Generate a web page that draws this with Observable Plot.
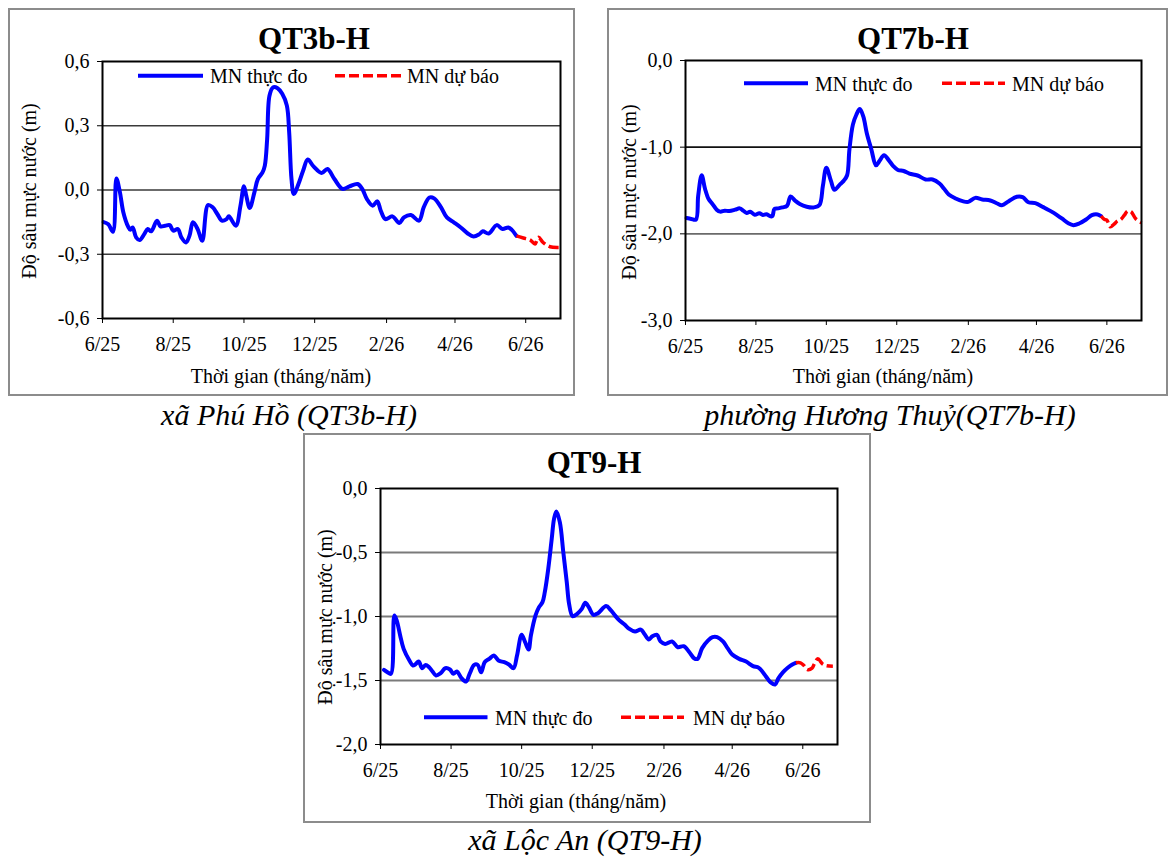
<!DOCTYPE html>
<html>
<head>
<meta charset="utf-8">
<script src="https://cdn.jsdelivr.net/npm/d3@7"></script>
<script src="https://cdn.jsdelivr.net/npm/@observablehq/plot@0.6"></script>
<style>
  html, body { margin: 0; padding: 0; background: #fff; }
  #page { position: relative; width: 1173px; height: 861px; background: #fff; overflow: hidden; }
  .box { position: absolute; box-sizing: border-box; border: 2px solid #8c8c8c; }
  .plotwrap { position: absolute; }
  #overlay { position: absolute; left: 0; top: 0; pointer-events: none; }
  #overlay text { font-family: 'Liberation Serif', 'Times New Roman', serif; fill: #000; }
</style>
</head>
<body>
<div id="page">
  <div class="box" style="left:8px;top:8px;width:567px;height:388px;"></div>
  <div class="box" style="left:607px;top:8px;width:561px;height:388px;"></div>
  <div class="box" style="left:303px;top:433px;width:568px;height:390px;"></div>
  <div class="plotwrap" id="p1"></div>
  <div class="plotwrap" id="p2"></div>
  <div class="plotwrap" id="p3"></div>
  <svg id="overlay" width="1173" height="861" xmlns="http://www.w3.org/2000/svg">
    <!-- Panel 1 -->
    <text x="314" y="49" text-anchor="middle" font-size="31" font-weight="bold">QT3b-H</text>
    <text transform="translate(36,191) rotate(-90)" text-anchor="middle" font-size="20">Độ sâu mực nước (m)</text>
    <text x="281" y="382.5" text-anchor="middle" font-size="20">Thời gian (tháng/năm)</text>
    <line x1="138" x2="203" y1="75.7" y2="75.7" stroke="#0000ff" stroke-width="4"/>
    <text x="210" y="83" font-size="20">MN thực đo</text>
    <line x1="335" x2="402" y1="75.7" y2="75.7" stroke="#ff0000" stroke-width="3.5" stroke-dasharray="10,4"/>
    <text x="407" y="83" font-size="20">MN dự báo</text>
    <text x="289" y="425" text-anchor="middle" font-size="30" font-style="italic">xã Phú Hồ (QT3b-H)</text>
    <!-- Panel 2 -->
    <text x="913" y="49" text-anchor="middle" font-size="31" font-weight="bold">QT7b-H</text>
    <text transform="translate(636,192) rotate(-90)" text-anchor="middle" font-size="20">Độ sâu mực nước (m)</text>
    <text x="883" y="382.5" text-anchor="middle" font-size="20">Thời gian (tháng/năm)</text>
    <line x1="744" x2="808" y1="83.3" y2="83.3" stroke="#0000ff" stroke-width="4"/>
    <text x="815" y="91" font-size="20">MN thực đo</text>
    <line x1="942" x2="1005" y1="83.3" y2="83.3" stroke="#ff0000" stroke-width="3.5" stroke-dasharray="10,4"/>
    <text x="1012" y="91" font-size="20">MN dự báo</text>
    <text x="890" y="425" text-anchor="middle" font-size="30" font-style="italic">phường Hương Thuỷ(QT7b-H)</text>
    <!-- Panel 3 -->
    <text x="594" y="473" text-anchor="middle" font-size="31" font-weight="bold">QT9-H</text>
    <text transform="translate(332,617) rotate(-90)" text-anchor="middle" font-size="20">Độ sâu mực nước (m)</text>
    <text x="576" y="808" text-anchor="middle" font-size="20">Thời gian (tháng/năm)</text>
    <line x1="424" x2="487.5" y1="717.3" y2="717.3" stroke="#0000ff" stroke-width="4"/>
    <text x="495" y="725" font-size="20">MN thực đo</text>
    <line x1="621" x2="684" y1="717.3" y2="717.3" stroke="#ff0000" stroke-width="3.5" stroke-dasharray="10,4"/>
    <text x="693" y="725" font-size="20">MN dự báo</text>
    <text x="585" y="850" text-anchor="middle" font-size="30" font-style="italic">xã Lộc An (QT9-H)</text>
  </svg>
</div>
<script>
// ---------- Data ----------
const monthTicks = ["2025-06-01","2025-08-01","2025-10-01","2025-12-01","2026-02-01","2026-04-01","2026-06-01"];
const timeDomain = ["2025-06-01","2026-07-01"];

// QT3b-H (xã Phú Hồ)
const qt3bObsDates = ["2025-06-02","2025-06-06","2025-06-10","2025-06-13","2025-06-16","2025-06-19","2025-06-23","2025-06-25","2025-06-27","2025-06-30",
  "2025-07-03","2025-07-07","2025-07-10","2025-07-13","2025-07-18","2025-07-21","2025-07-25","2025-07-29",
  "2025-08-01","2025-08-05","2025-08-08","2025-08-12","2025-08-15","2025-08-18","2025-08-22","2025-08-26","2025-08-31",
  "2025-09-04","2025-09-08","2025-09-12","2025-09-16","2025-09-18","2025-09-24","2025-09-28",
  "2025-10-01","2025-10-03","2025-10-06","2025-10-10","2025-10-13","2025-10-17","2025-10-19","2025-10-21","2025-10-23","2025-10-26","2025-10-30",
  "2025-11-03","2025-11-07","2025-11-09","2025-11-11","2025-11-13","2025-11-17","2025-11-21","2025-11-25","2025-11-30",
  "2025-12-07","2025-12-12","2025-12-18","2025-12-25","2025-12-31",
  "2026-01-07","2026-01-11","2026-01-15","2026-01-20","2026-01-24","2026-01-27","2026-01-31",
  "2026-02-06","2026-02-12","2026-02-16","2026-02-22",
  "2026-03-01","2026-03-05","2026-03-10","2026-03-14","2026-03-20","2026-03-25","2026-03-31",
  "2026-04-06","2026-04-12","2026-04-17","2026-04-22","2026-04-25","2026-04-30",
  "2026-05-07","2026-05-12","2026-05-17","2026-05-20","2026-05-24"];
const qt3bObsValues = [-0.15,-0.16,-0.195,0.054,-0.01,-0.105,-0.17,-0.186,-0.175,-0.221,
  -0.234,-0.206,-0.182,-0.193,-0.143,-0.17,-0.167,-0.164,
  -0.19,-0.182,-0.221,-0.245,-0.214,-0.151,-0.182,-0.237,-0.07,
  -0.081,-0.112,-0.143,-0.136,-0.123,-0.167,-0.073,
  0.017,-0.027,-0.084,-0.011,0.051,0.082,0.114,0.238,0.44,0.479,0.475,
  0.449,0.394,0.269,0.051,-0.019,0.028,0.09,0.142,0.11,
  0.079,0.098,0.051,0.005,0.017,
  0.028,0.005,-0.042,-0.073,-0.053,-0.097,-0.136,
  -0.123,-0.154,-0.128,-0.117,
  -0.143,-0.081,-0.035,-0.039,-0.081,-0.128,-0.151,
  -0.175,-0.203,-0.217,-0.206,-0.193,-0.203,
  -0.164,-0.182,-0.175,-0.186,-0.214];
const qt3bFcDates = ["2026-05-24","2026-05-30","2026-06-05","2026-06-09","2026-06-12","2026-06-16","2026-06-22","2026-06-30"];
const qt3bFcValues = [-0.214,-0.224,-0.234,-0.252,-0.221,-0.245,-0.265,-0.268];
const qt3bYTicks = [-0.6,-0.3,0,0.3,0.6];

// QT7b-H (phường Hương Thuỷ)
const qt7bObsDates = ["2025-06-02","2025-06-06","2025-06-10","2025-06-12","2025-06-15","2025-06-18","2025-06-21","2025-06-24","2025-06-28",
  "2025-07-01","2025-07-05","2025-07-09","2025-07-14","2025-07-18","2025-07-21","2025-07-24","2025-07-27","2025-07-31",
  "2025-08-04","2025-08-07","2025-08-10","2025-08-15","2025-08-17","2025-08-20","2025-08-24","2025-08-28","2025-08-31",
  "2025-09-04","2025-09-08","2025-09-14","2025-09-20","2025-09-25","2025-09-28",
  "2025-10-01","2025-10-05","2025-10-08","2025-10-13","2025-10-16","2025-10-19","2025-10-21","2025-10-24","2025-10-27","2025-10-30",
  "2025-11-02","2025-11-05","2025-11-09","2025-11-13","2025-11-16","2025-11-20","2025-11-24","2025-11-28",
  "2025-12-02","2025-12-07","2025-12-12","2025-12-19","2025-12-26",
  "2026-01-01","2026-01-07","2026-01-11","2026-01-15","2026-01-21","2026-01-27",
  "2026-02-01","2026-02-07","2026-02-13","2026-02-20","2026-02-26",
  "2026-03-02","2026-03-08","2026-03-15","2026-03-20","2026-03-25","2026-03-31",
  "2026-04-07","2026-04-16","2026-04-23","2026-04-29",
  "2026-05-03","2026-05-08","2026-05-14","2026-05-19","2026-05-24","2026-05-27"];
const qt7bObsValues = [-1.817,-1.828,-1.836,-1.561,-1.324,-1.485,-1.599,-1.649,-1.721,
  -1.744,-1.733,-1.737,-1.721,-1.706,-1.733,-1.76,-1.744,-1.779,
  -1.763,-1.782,-1.775,-1.798,-1.714,-1.706,-1.695,-1.676,-1.569,
  -1.618,-1.656,-1.687,-1.695,-1.668,-1.447,
  -1.237,-1.389,-1.492,-1.427,-1.389,-1.324,-1.027,-0.74,-0.626,-0.561,
  -0.645,-0.836,-1.027,-1.21,-1.16,-1.092,-1.149,-1.218,
  -1.263,-1.275,-1.305,-1.327,-1.373,
  -1.373,-1.419,-1.48,-1.546,-1.592,-1.623,
  -1.631,-1.585,-1.604,-1.615,-1.65,
  -1.669,-1.623,-1.573,-1.577,-1.635,-1.646,
  -1.692,-1.758,-1.823,-1.881,
  -1.9,-1.881,-1.835,-1.785,-1.777,-1.796];
const qt7bFcDates = ["2026-05-27","2026-05-30","2026-06-01","2026-06-04","2026-06-07","2026-06-10","2026-06-13","2026-06-16","2026-06-19","2026-06-22","2026-06-26","2026-07-01"];
const qt7bFcValues = [-1.796,-1.835,-1.842,-1.919,-1.892,-1.854,-1.835,-1.788,-1.738,-1.746,-1.827,-1.873];
const qt7bYTicks = [-3,-2,-1,0];

// QT9-H (xã Lộc An)
const qt9ObsDates = ["2025-06-04","2025-06-07","2025-06-10","2025-06-13","2025-06-15","2025-06-18","2025-06-21","2025-06-26","2025-06-29",
  "2025-07-01","2025-07-04","2025-07-07","2025-07-10","2025-07-13","2025-07-16","2025-07-19","2025-07-23","2025-07-27","2025-07-31",
  "2025-08-03","2025-08-06","2025-08-10","2025-08-14","2025-08-17","2025-08-21","2025-08-24","2025-08-27","2025-08-30",
  "2025-09-03","2025-09-07","2025-09-11","2025-09-16","2025-09-20","2025-09-24","2025-09-27",
  "2025-10-01","2025-10-04","2025-10-07","2025-10-09","2025-10-13","2025-10-16","2025-10-19","2025-10-21","2025-10-24","2025-10-27","2025-10-29","2025-10-31",
  "2025-11-03","2025-11-06","2025-11-09","2025-11-11","2025-11-14","2025-11-18","2025-11-22","2025-11-25","2025-11-28",
  "2025-12-02","2025-12-06","2025-12-13","2025-12-17","2025-12-21","2025-12-24","2025-12-29",
  "2026-01-02","2026-01-07","2026-01-12","2026-01-15","2026-01-19","2026-01-22","2026-01-26","2026-01-29",
  "2026-02-02","2026-02-08","2026-02-13","2026-02-18","2026-02-23","2026-02-27",
  "2026-03-02","2026-03-06","2026-03-11","2026-03-15","2026-03-19","2026-03-24","2026-03-28",
  "2026-04-01","2026-04-07","2026-04-13","2026-04-19","2026-04-24","2026-04-30",
  "2026-05-04","2026-05-08","2026-05-11","2026-05-15","2026-05-19","2026-05-23","2026-05-26"];
const qt9ObsValues = [-1.417,-1.435,-1.448,-0.992,-1.031,-1.148,-1.253,-1.344,-1.383,
  -1.375,-1.352,-1.404,-1.378,-1.396,-1.43,-1.461,-1.443,-1.404,-1.414,
  -1.448,-1.43,-1.482,-1.508,-1.448,-1.378,-1.378,-1.435,-1.357,
  -1.331,-1.305,-1.344,-1.357,-1.375,-1.404,-1.305,
  -1.143,-1.2,-1.258,-1.148,-0.992,-0.927,-0.888,-0.81,-0.628,-0.393,-0.237,-0.18,
  -0.263,-0.497,-0.732,-0.901,-0.997,-0.979,-0.94,-0.893,-0.927,
  -0.987,-0.974,-0.918,-0.95,-0.995,-1.026,-1.063,
  -1.096,-1.117,-1.102,-1.135,-1.18,-1.154,-1.143,-1.195,
  -1.214,-1.195,-1.24,-1.232,-1.279,-1.326,
  -1.331,-1.247,-1.188,-1.161,-1.161,-1.195,-1.247,
  -1.297,-1.331,-1.352,-1.388,-1.401,-1.466,
  -1.513,-1.531,-1.482,-1.435,-1.401,-1.375,-1.362];
const qt9FcDates = ["2026-05-26","2026-05-30","2026-06-02","2026-06-05","2026-06-09","2026-06-11","2026-06-14","2026-06-18","2026-06-21","2026-06-27"];
const qt9FcValues = [-1.362,-1.362,-1.383,-1.414,-1.404,-1.37,-1.331,-1.37,-1.383,-1.388];
const qt9YTicks = [-2,-1.5,-1,-0.5,0];

// ---------- Drawing ----------
const FONT = "'Liberation Serif', 'Times New Roman', serif";
const ML = 60, MR = 12, MT = 12, MB = 50;
const parse = s => new Date(s + "T00:00:00Z");
const fmtX = d3.utcFormat("%-m/%y");
const fmtY = v => d3.format(".1f")(v).replace("\u2212", "-").replace(".", ",");
const toRows = (dates, vals) => dates.map((d, i) => ({date: parse(d), v: vals[i]}));

function drawPanel(id, box, obsDates, obsVals, fcDates, fcVals, yTicks, gridStyle) {
  const obs = toRows(obsDates, obsVals);
  const fc = toRows(fcDates, fcVals);
  const yDomain = [d3.min(yTicks), d3.max(yTicks)];
  const grid = yTicks.filter(t => t !== yDomain[0] && t !== yDomain[1]);
  const chart = Plot.plot({
    width: box.x1 - box.x0 + ML + MR,
    height: box.y1 - box.y0 + MT + MB,
    marginLeft: ML, marginRight: MR, marginTop: MT, marginBottom: MB,
    style: {fontFamily: FONT, fontSize: "20px", color: "#000", background: "transparent", overflow: "visible"},
    x: {type: "utc", domain: timeDomain.map(parse), ticks: monthTicks.map(parse), tickFormat: fmtX,
        tickSize: 5, tickPadding: 13, label: null},
    y: {domain: yDomain, ticks: yTicks, tickFormat: fmtY, tickSize: 5, tickPadding: 8, label: null},
    marks: [
      Plot.ruleY(grid, {stroke: (d) => gridStyle.color(d), strokeWidth: gridStyle.width}),
      Plot.line(obs, {x: "date", y: "v", stroke: "#0000ff", strokeWidth: 4, curve: "catmull-rom",
                      strokeLinejoin: "round", strokeLinecap: "round"}),
      Plot.line(fc, {x: "date", y: "v", stroke: "#ff0000", strokeWidth: 3.5, strokeDasharray: "10,4",
                     curve: "catmull-rom", strokeLinecap: "butt"}),
      Plot.frame({stroke: "#000", strokeWidth: 2})
    ]
  });
  const wrap = document.getElementById(id);
  wrap.style.left = (box.x0 - ML) + "px";
  wrap.style.top = (box.y0 - MT) + "px";
  wrap.appendChild(chart);
}

drawPanel("p1", {x0: 102, x1: 560, y0: 61, y1: 318},
  qt3bObsDates, qt3bObsValues, qt3bFcDates, qt3bFcValues, qt3bYTicks,
  {color: () => "#3a3a3a", width: 1.5});
drawPanel("p2", {x0: 685, x1: 1141, y0: 60, y1: 320},
  qt7bObsDates, qt7bObsValues, qt7bFcDates, qt7bFcValues, qt7bYTicks,
  {color: d => d === -1 ? "#111" : "#6a6a6a", width: 1.6});
drawPanel("p3", {x0: 380, x1: 837, y0: 488, y1: 744},
  qt9ObsDates, qt9ObsValues, qt9FcDates, qt9FcValues, qt9YTicks,
  {color: () => "#7a7a7a", width: 2});
</script>
</body>
</html>
